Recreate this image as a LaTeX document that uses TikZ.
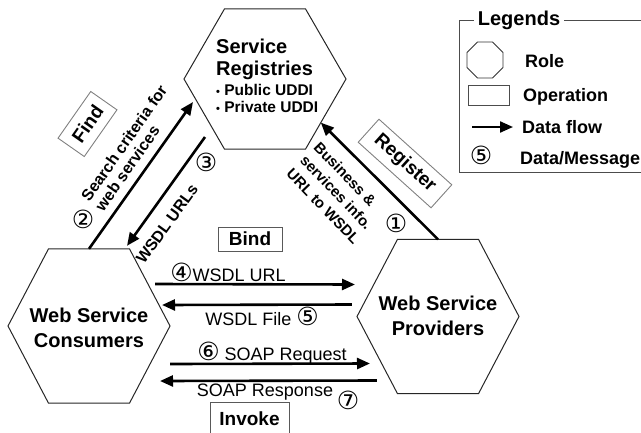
\documentclass[tikz,border=0pt]{standalone}
\usepackage{fontspec}
\setmainfont{Liberation Sans}
\newfontfamily\cnumfont{DejaVu Sans}
\usetikzlibrary{shapes.geometric, arrows.meta}

\newcommand\cn[1]{{\cnumfont\fontsize{25}{20}\selectfont #1}}
\newcommand\regbullet{{\fontsize{11}{11}\selectfont\textbullet}\ }

\begin{document}
\begin{tikzpicture}[
          x=1pt, y=-1pt,
          role/.style = {draw=black!85, line width=1pt, regular polygon, regular polygon sides=6, minimum size=162pt, inner sep=0pt, outer sep=0pt},
          roletext/.style = {align=center, inner sep=0pt, font=\bfseries\fontsize{20}{25}\selectfont},
          opbox/.style = {draw=black!65, line width=0.9pt, minimum height=24pt, inner sep=0pt, font=\bfseries\fontsize{19}{22}\selectfont},
          msg/.style = {inner sep=0pt, font=\fontsize{18}{20}\selectfont},
          num/.style = {inner sep=0pt, font=\cnumfont\fontsize{25}{25}\selectfont},
          slant/.style = {align=left, inner sep=0pt, font=\bfseries\fontsize{15}{19}\selectfont},
          flow/.style = {line width=2.6pt, -{Triangle[length=13pt, width=11pt]}},
          legtext/.style = {anchor=west, inner sep=0pt, font=\bfseries\fontsize{18}{20}\selectfont}
         ]
        \useasboundingbox (0,0) rectangle (641,432);

        % Rollen
        \node[role] (reg) at (265,79) {};
        \node[role, yscale=1.1] (cons) at (89,326) {};
        \node[role, yscale=1.1] (prov) at (438,316.5) {};

        \node[anchor=west, align=left, inner sep=0pt, font=\bfseries\fontsize{20}{22}\selectfont] (regTitle) at (216,59) {Service\\Registries};
        \node[anchor=west, align=left, inner sep=0pt, font=\bfseries\fontsize{15.5}{17}\selectfont] (regList) at (216,98.5) {\regbullet Public UDDI\\\regbullet Private UDDI};
        \node[roletext] (consText) at (89,327.5) {Web Service\\Consumers};
        \node[roletext] (provText) at (438,315.5) {Web Service\\Providers};

        % Operationen
        \node[opbox, draw=black!50, minimum width=57pt, minimum height=32pt, rotate=55] (find) at (87.5,124) {Find};
        \node[opbox, draw=black!50, minimum width=98pt, minimum height=31pt, rotate=-42] (register) at (405,163.5) {Register};
        \node[opbox, minimum width=64pt] (bind) at (250,239) {Bind};
        \node[opbox, minimum width=79pt, minimum height=34pt] (invoke) at (249.5,419) {Invoke};

        % Datenfluss
        \draw[flow] (cons.north) -- ([shift={(-72,23)}]reg.center);
        \draw[flow] ([shift={(-60,58)}]reg.center) -- ([shift={(38,-3)}]cons.north);
        \draw[flow] (prov.north) -- (reg.-38);
        \draw[flow] ([shift={(-15,-42)}]cons.east) -- ([shift={(-2,-32)}]prov.west);
        \draw[flow] ([shift={(-5,-12)}]prov.west) -- ([shift={(-8,-21)}]cons.east);
        \draw[flow] ([shift={(0,38)}]cons.east) -- ([shift={(13,47)}]prov.west);
        \draw[flow] ([shift={(20,64)}]prov.west) -- ([shift={(-10,55)}]cons.east);

        % Nachrichten
        \node[slant, font=\bfseries\fontsize{16}{17}\selectfont, rotate=55] (searchLbl) at (131,148) {Search criteria for\\web services};
        \node[slant, font=\bfseries\fontsize{16}{19}\selectfont, rotate=54] (urlsLbl) at (167,224) {WSDL URLs};
        \node[slant, rotate=-46] (infoLbl) at (337,193) {Business \&\\services info.\\URL to WSDL};
        \node[num] (n1) at (396,223) {①};
        \node[num] (n2) at (83,219) {②};
        \node[num] (n3) at (206,162) {③};
        \node[msg] (urlMsg) at (228,272) {\cn{④}WSDL URL};
        \node[msg] (fileMsg) at (262,316) {WSDL File \cn{⑤}};
        \node[msg] (reqMsg) at (272,353) {\cn{⑥} SOAP Request};
        \node[msg] (respMsg) at (265,392) {SOAP Response};
        \node[num] (n7) at (348,400) {⑦};

        % Legende
        \draw[black!70, line width=0.9pt] (459,20) rectangle (660,172);
        \node[fill=white, inner xsep=4pt, inner ysep=1pt, font=\bfseries\fontsize{20}{22}\selectfont] (legTitle) at (519,20) {Legends};
        \node[draw=black!80, line width=0.9pt, regular polygon, regular polygon sides=8, minimum size=39pt, inner sep=0pt] (legRole) at (485,60) {};
        \node[legtext] (legRoleText) at (525,61) {Role};
        \node[draw=black!70, line width=0.9pt, minimum width=41pt, minimum height=20pt, inner sep=0pt] (legOp) at (488.5,95) {};
        \node[legtext] (legOpText) at (523,97) {Operation};
        \coordinate (legFlowA) at (472,127);
        \coordinate (legFlowB) at (513,127);
        \draw[flow, line width=2.2pt] (legFlowA) -- (legFlowB);
        \node[legtext] (legFlowText) at (522,127) {Data flow};
        \node[num] (legNum) at (481,155) {⑤};
        \node[legtext] (legNumText) at (520,160) {Data/Message};

\end{tikzpicture}
\end{document}
